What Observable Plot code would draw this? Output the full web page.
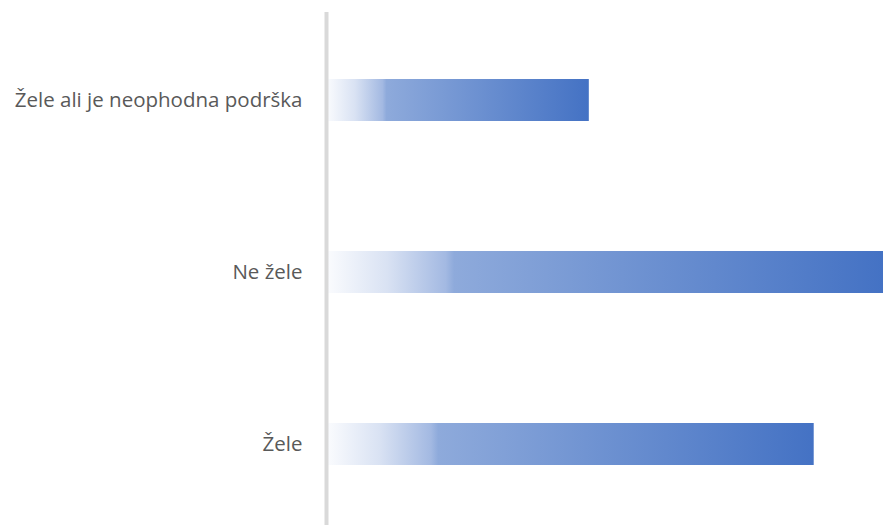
<!DOCTYPE html>
<html>
<head>
<meta charset="utf-8">
<script src="https://cdn.jsdelivr.net/npm/d3@7"></script>
<script src="https://cdn.jsdelivr.net/npm/@observablehq/plot@0.6"></script>
<style>
  html, body { margin: 0; padding: 0; background: #fff; }
  #chart svg { display: block; }
</style>
</head>
<body>
<div id="chart"></div>
<script>
const categories = ["Žele ali je neophodna podrška", "Ne žele", "Žele"];
const values = [20.1, 42.6, 37.3];

const data = categories.map((c, i) => ({category: c, value: values[i]}));

const plot = Plot.plot({
  width: 883,
  height: 525,
  marginLeft: 326,
  marginRight: 0,
  marginTop: 12,
  marginBottom: 0,
  style: {fontFamily: "'Open Sans', sans-serif", fontSize: "20.5px", color: "#595959", background: "#fff"},
  x: {domain: [0, d3.max(values)], axis: null},
  y: {domain: categories, paddingInner: 0.7565, paddingOuter: 0.365, align: 0.524, label: null},
  marks: [
    Plot.barX(data, {x: "value", y: "category", fill: "url(#barGrad)"}),
    Plot.ruleX([0], {stroke: "#d9d9d9", strokeWidth: 4}),
    Plot.axisY({tickSize: 0, tickPadding: 24, fill: "#595959", fontSize: 20.5, label: null})
  ]
});

const svg = d3.select(plot);
const defs = svg.insert("defs", ":first-child");
const grad = defs.append("linearGradient")
  .attr("id", "barGrad")
  .attr("x1", "0").attr("y1", "0").attr("x2", "1").attr("y2", "0");
[[0, "#fbfcfe"], [0.11, "#d9e2f3"], [0.215, "#a3b9e2"], [0.23, "#8eaadb"], [1, "#4472c4"]]
  .forEach(([o, c]) => grad.append("stop").attr("offset", o).attr("stop-color", c));

document.getElementById("chart").appendChild(plot);
</script>
</body>
</html>
